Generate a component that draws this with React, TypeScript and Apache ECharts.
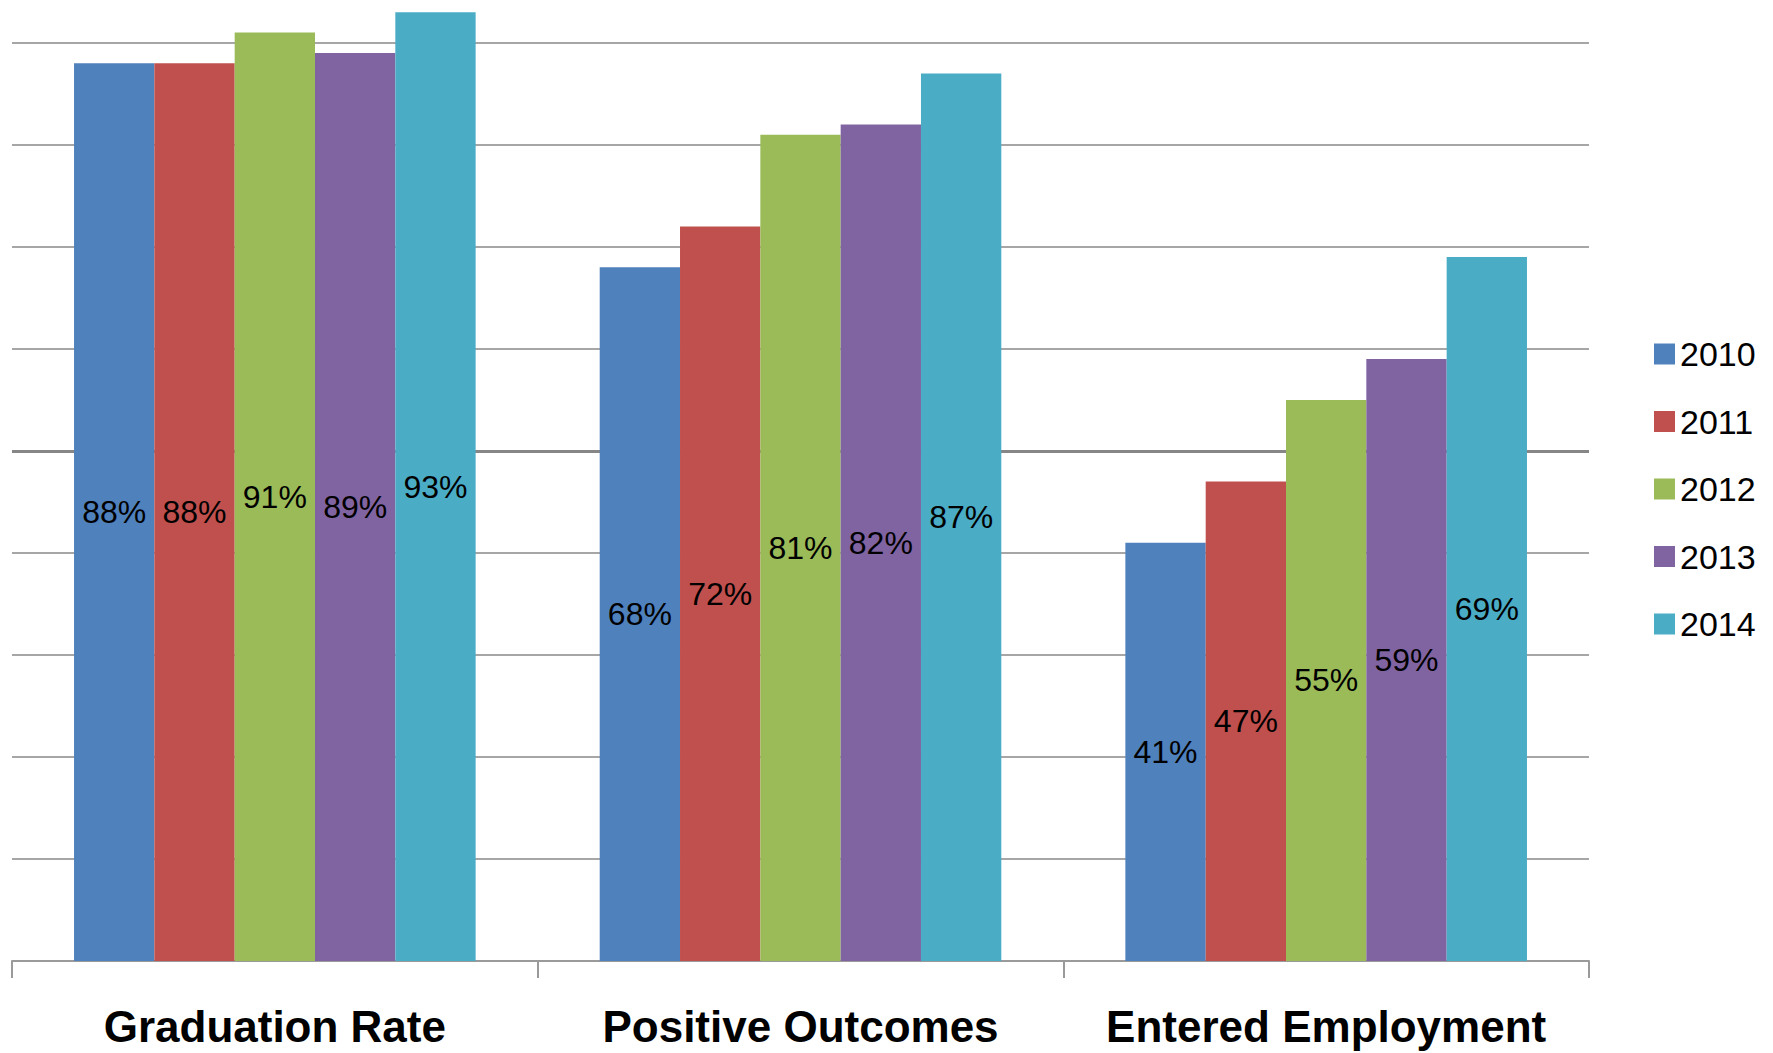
import React, { useEffect, useRef } from "react";
import * as echarts from "echarts";

const categories = ["Graduation Rate", "Positive Outcomes", "Entered Employment"];
const years = ["2010", "2011", "2012", "2013", "2014"];
const values2010 = [88, 68, 41];
const values2011 = [88, 72, 47];
const values2012 = [91, 81, 55];
const values2013 = [89, 82, 59];
const values2014 = [93, 87, 69];
const seriesValues = [values2010, values2011, values2012, values2013, values2014];
const colors = ["#4F81BD", "#C0504D", "#9BBB59", "#8064A2", "#4BACC6"];

const FONT = "'Liberation Sans', Arial, sans-serif";

export default function App() {
  const ref = useRef<HTMLDivElement>(null);
  useEffect(() => {
    if (!ref.current) return;
    const chart = echarts.init(ref.current, undefined, { renderer: "svg" });
    chart.setOption({
      animation: false,
      backgroundColor: "#ffffff",
      textStyle: { fontFamily: FONT },
      grid: { left: 12, right: 184, top: 2, bottom: 92, containLabel: false },
      legend: {
        orient: "vertical",
        left: 1649,
        top: 329,
        itemWidth: 21,
        itemHeight: 21,
        itemGap: 27.5,
        icon: "rect",
        data: years,
        textStyle: {
          fontFamily: FONT,
          fontSize: 34,
          color: "#000",
          lineHeight: 40,
        },
      },
      xAxis: {
        type: "category",
        data: categories,
        axisLine: { show: true, lineStyle: { color: "#9a9a9a", width: 2 } },
        axisTick: { show: true, length: 17, lineStyle: { color: "#9a9a9a", width: 2 } },
        axisLabel: {
          interval: 0,
          fontFamily: FONT,
          fontSize: 44,
          fontWeight: "bold",
          color: "#000",
          margin: 41,
          lineHeight: 48,
        },
        splitLine: { show: false },
      },
      yAxis: [
        {
          type: "value",
          min: 0,
          max: 94,
          interval: 10,
          axisLine: { show: false },
          axisTick: { show: false },
          axisLabel: { show: false },
          splitLine: {
            show: true,
            showMinLine: false,
            showMaxLine: false,
            lineStyle: { color: "#a6a6a6", width: 2 },
          },
        },
        {
          type: "value",
          min: 0,
          max: 94,
          interval: 50,
          position: "right",
          axisLine: { show: false },
          axisTick: { show: false },
          axisLabel: { show: false },
          splitLine: {
            show: true,
            showMinLine: false,
            showMaxLine: false,
            lineStyle: { color: "#868686", width: 3 },
          },
        },
      ],
      series: years.map((y, i) => ({
        name: y,
        type: "bar",
        yAxisIndex: 0,
        data: seriesValues[i],
        barGap: "0%",
        barCategoryGap: "23.6%",
        itemStyle: { color: colors[i] },
        label: {
          show: true,
          position: "inside",
          formatter: "{c}%",
          fontFamily: FONT,
          fontSize: 32,
          color: "#000",
        },
      })),
    });
    return () => chart.dispose();
  }, []);
  return (
    <div
      ref={ref}
      style={{ position: "absolute", left: 0, top: 0, width: 1773, height: 1053 }}
    />
  );
}
